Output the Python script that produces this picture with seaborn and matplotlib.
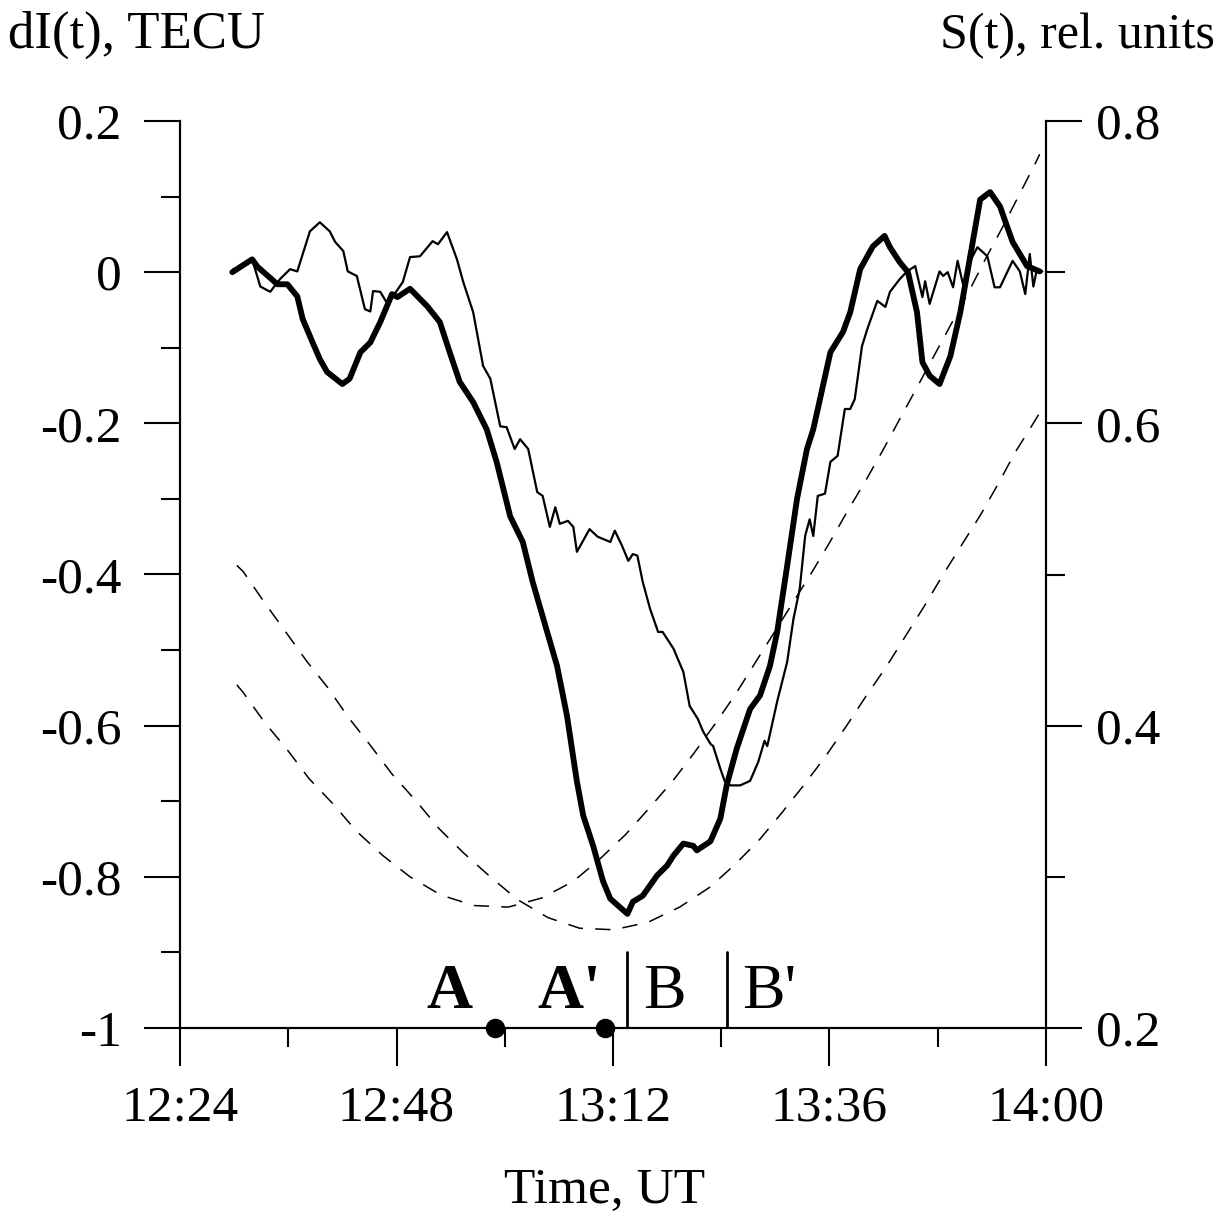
import numpy as np
import pandas as pd
import matplotlib
matplotlib.use("Agg")
import matplotlib.pyplot as plt
from matplotlib.ticker import FixedLocator
import seaborn as sns

# ---------------- data (time in minutes after 12:00 UT) ----------------
thick_t = [29.8, 32.0, 32.6, 34.8, 35.9, 37.0, 37.6, 38.7, 39.5, 40.3, 42.0, 42.8, 44.0, 45.1,
           46.2, 47.5, 48.1, 49.5, 51.4, 52.8, 53.9, 55.0, 56.5, 58.0, 59.1, 60.6, 62.0, 63.1,
           64.7, 65.8, 66.9, 68.0, 68.7, 69.8, 70.9, 71.7, 73.6, 74.2, 75.3, 76.9, 78.0, 78.7,
           79.8, 80.9, 81.3, 82.8, 83.9, 84.6, 85.7, 87.2, 88.3, 89.4, 90.2, 91.3, 92.4, 93.5,
           94.2, 96.1, 97.5, 98.3, 99.4, 100.8, 102.1, 102.7, 103.8, 104.7, 105.7, 106.3, 107.1,
           108.2, 109.4, 110.5, 111.6, 112.7, 113.8, 114.9, 116.3, 117.9, 119.3]
thick_v = [0.000, 0.017, 0.007, -0.016, -0.016, -0.032, -0.062, -0.093, -0.115, -0.132, -0.148,
           -0.141, -0.106, -0.093, -0.066, -0.029, -0.033, -0.022, -0.045, -0.066, -0.106, -0.145,
           -0.172, -0.208, -0.251, -0.323, -0.357, -0.410, -0.476, -0.521, -0.587, -0.674, -0.719,
           -0.759, -0.806, -0.829, -0.849, -0.833, -0.825, -0.798, -0.785, -0.772, -0.756, -0.759,
           -0.765, -0.753, -0.723, -0.679, -0.631, -0.578, -0.560, -0.521, -0.476, -0.389, -0.300,
           -0.234, -0.208, -0.106, -0.079, -0.053, 0.004, 0.034, 0.048, 0.033, 0.013, 0.000,
           -0.053, -0.119, -0.137, -0.148, -0.111, -0.053, 0.021, 0.096, 0.106, 0.087, 0.040,
           0.008, 0.001]

thin_t = [29.9, 30.7, 32.0, 32.9, 34.0, 35.1, 36.2, 37.0, 38.4, 39.5, 40.6, 41.2, 42.1, 42.6,
          43.6, 44.5, 45.1, 45.4, 46.2, 46.9, 47.6, 48.7, 49.5, 50.6, 52.0, 52.6, 53.6, 54.7,
          55.4, 56.5, 57.6, 58.4, 59.5, 60.2, 61.1, 61.7, 62.6, 63.6, 64.2, 65.0, 65.6, 66.1,
          67.0, 67.6, 68.0, 69.4, 70.3, 71.7, 72.2, 73.0, 73.7, 74.2, 74.7, 75.3, 76.1, 77.0,
          77.5, 78.7, 79.8, 80.5, 81.4, 82.0, 82.8, 83.1, 83.9, 84.4, 85.0, 86.1, 87.2, 88.1,
          88.8, 89.1, 90.2, 91.3, 92.0, 92.7, 93.3, 93.8, 94.2, 94.7, 95.5, 96.1, 96.9, 97.7,
          98.3, 98.8, 99.6, 100.2, 101.3, 102.2, 102.7, 103.8, 104.6, 105.5, 106.3, 106.6,
          107.1, 108.2, 108.6, 109.1, 109.7, 110.2, 110.8, 111.6, 112.4, 113.5, 114.3, 114.9,
          116.3, 117.1, 117.7, 118.2, 118.6, 119.0, 119.6]
thin_v = [0.004, 0.005, 0.017, -0.019, -0.026, -0.009, 0.004, 0.001, 0.054, 0.066, 0.054, 0.040,
          0.028, 0.001, -0.005, -0.049, -0.052, -0.025, -0.026, -0.040, -0.032, -0.013, 0.020,
          0.021, 0.041, 0.037, 0.053, 0.017, -0.013, -0.053, -0.124, -0.141, -0.204, -0.205,
          -0.234, -0.221, -0.234, -0.291, -0.296, -0.337, -0.311, -0.333, -0.329, -0.337, -0.370,
          -0.340, -0.350, -0.357, -0.342, -0.362, -0.382, -0.373, -0.375, -0.410, -0.445, -0.476,
          -0.476, -0.498, -0.529, -0.574, -0.591, -0.608, -0.624, -0.627, -0.657, -0.674, -0.679,
          -0.679, -0.673, -0.648, -0.620, -0.627, -0.568, -0.516, -0.459, -0.419, -0.349, -0.327,
          -0.349, -0.296, -0.293, -0.251, -0.243, -0.181, -0.181, -0.168, -0.098, -0.075, -0.038,
          -0.046, -0.026, -0.009, 0.001, 0.008, -0.033, -0.012, -0.042, 0.001, -0.005, 0.000,
          -0.020, 0.015, -0.016, 0.015, 0.033, 0.021, -0.020, -0.020, 0.015, 0.001, -0.029,
          0.024, -0.019, 0.004, 0.001]

s1_t = [30.3, 31.0, 33.4, 35.9, 38.3, 41.0, 43.6, 46.5, 49.5, 52.9, 56.6, 60.4, 64.1, 67.6,
        70.4, 73.4, 76.1, 78.7, 81.0, 83.3, 85.5, 87.7, 91.9, 94.0, 96.0, 98.0, 100.0, 101.9,
        103.8, 105.9, 107.8, 109.7, 111.6, 113.4, 115.3, 117.1, 118.9, 119.3]
s1_v = [0.427, 0.422, 0.402, 0.384, 0.365, 0.348, 0.330, 0.314, 0.300, 0.288, 0.281, 0.280,
        0.286, 0.297, 0.311, 0.328, 0.346, 0.364, 0.382, 0.401, 0.420, 0.441, 0.481, 0.501,
        0.521, 0.542, 0.562, 0.582, 0.603, 0.626, 0.647, 0.668, 0.689, 0.710, 0.731, 0.752,
        0.773, 0.778]

s2_t = [30.3, 31.0, 33.3, 35.6, 38.0, 40.4, 42.6, 45.1, 47.5, 50.2, 52.7, 55.4, 58.4, 61.4,
        64.8, 68.3, 72.1, 75.9, 79.4, 82.7, 85.5, 88.3, 90.8, 93.2, 95.6, 97.9, 100.1, 102.3,
        104.4, 106.5, 108.6, 110.7, 112.8, 114.7, 116.6, 118.7, 119.3]
s2_v = [0.506, 0.502, 0.482, 0.463, 0.443, 0.425, 0.406, 0.387, 0.368, 0.350, 0.332, 0.316,
        0.300, 0.285, 0.273, 0.266, 0.265, 0.270, 0.280, 0.293, 0.308, 0.325, 0.343, 0.361,
        0.380, 0.400, 0.420, 0.439, 0.459, 0.479, 0.500, 0.520, 0.540, 0.560, 0.581, 0.601,
        0.607]

x_ticks = [24, 48, 72, 96, 120]
x_tick_labels = ["12:24", "12:48", "13:12", "13:36", "14:00"]
x_minor = [36, 60, 84, 108]
y_ticks = [-1.0, -0.8, -0.6, -0.4, -0.2, 0.0, 0.2]
y_tick_labels = ["-1", "-0.8", "-0.6", "-0.4", "-0.2", "0", "0.2"]
y_minor = [-0.9, -0.7, -0.5, -0.3, -0.1, 0.1]
r_ticks = [0.2, 0.4, 0.6, 0.8]
r_tick_labels = ["0.2", "0.4", "0.6", "0.8"]
r_minor = [0.3, 0.5, 0.7]

dot_t = [58.9, 71.1]
dot_labels = ["A", "A'"]
dot_label_t = [53.9, 67.2]
bar_t = [73.6, 84.6]
bar_labels = ["B", "B'"]

# ---------------- style ----------------
sns.set_style("ticks")
plt.rcParams['font.family'] = ['Liberation Serif', 'DejaVu Serif']
plt.rcParams['axes.unicode_minus'] = False
for k in ('text.color', 'axes.labelcolor', 'xtick.color', 'ytick.color', 'axes.edgecolor'):
    plt.rcParams[k] = 'black'

fig = plt.figure(figsize=(12.25, 12.13), dpi=100)
ax = fig.add_axes([180/1225, 1 - 1028/1213, (1046-180)/1225, (1028-121)/1213])
ax2 = ax.twinx()

df_thick = pd.DataFrame({"t": thick_t, "v": thick_v})
df_thin = pd.DataFrame({"t": thin_t, "v": thin_v})
df_s1 = pd.DataFrame({"t": s1_t, "s": s1_v})
df_s2 = pd.DataFrame({"t": s2_t, "s": s2_v})

sns.lineplot(data=df_thin, x="t", y="v", ax=ax, color="black", linewidth=1.6,
             estimator=None, sort=False)
sns.lineplot(data=df_thick, x="t", y="v", ax=ax, color="black", linewidth=4.2,
             estimator=None, sort=False)
for d in (df_s1, df_s2):
    sns.lineplot(data=d, x="t", y="s", ax=ax2, color="black", linewidth=1.1,
                 linestyle=(0, (10, 8)), estimator=None, sort=False)

ax.set_xlim(24, 120)
ax.set_ylim(-1.0, 0.2)
ax2.set_ylim(0.2, 0.8)

for a in (ax, ax2):
    a.spines['top'].set_visible(False)
    for s in a.spines.values():
        s.set_linewidth(1.5)
        s.set_color("black")
    a.set_xlabel("")
    a.set_ylabel("")

ax.xaxis.set_major_locator(FixedLocator(x_ticks))
ax.xaxis.set_minor_locator(FixedLocator(x_minor))
ax.set_xticklabels(x_tick_labels)
ax.yaxis.set_major_locator(FixedLocator(y_ticks))
ax.yaxis.set_minor_locator(FixedLocator(y_minor))
ax.set_yticklabels(y_tick_labels)
ax2.yaxis.set_major_locator(FixedLocator(r_ticks))
ax2.yaxis.set_minor_locator(FixedLocator(r_minor))
ax2.set_yticklabels(r_tick_labels)

fs = 37
ax.tick_params(axis='x', which='major', length=27, width=1.5, direction='out',
               labelsize=fs, pad=14, colors='black')
ax.tick_params(axis='x', which='minor', length=14, width=1.5, direction='out', colors='black')
ax.tick_params(axis='y', which='major', length=26, width=1.5, direction='out',
               labelsize=fs, pad=16, left=True, right=False, colors='black')
ax.tick_params(axis='y', which='minor', length=14, width=1.5, direction='out',
               left=True, right=False, colors='black')
ax2.tick_params(axis='y', which='major', length=26, width=1.5, direction='out',
                labelsize=fs, pad=10, right=True, left=False, colors='black')
ax2.tick_params(axis='y', which='minor', length=14, width=1.5, direction='out',
                right=True, left=False, colors='black')

# markers and labels at the time axis
ax.plot(dot_t, [-1.0, -1.0], 'o', color='black', markersize=13, clip_on=False, zorder=5)
for lbl, tx in zip(dot_labels, dot_label_t):
    ax.text(tx, -0.974, lbl, fontsize=46, fontweight='bold', ha='center', va='baseline',
            color='black')
for lbl, tx in zip(bar_labels, bar_t):
    ax.plot([tx, tx], [-1.0, -0.9], color='black', linewidth=2.0)
    ax.text(tx + 1.7, -0.974, lbl, fontsize=46, ha='left', va='baseline', color='black')

fig.text(8/1225, 1 - 48/1213, "dI(t), TECU", fontsize=38, ha='left', va='baseline', color='black')
fig.text(1215/1225, 1 - 48/1213, "S(t), rel. units", fontsize=36, ha='right', va='baseline',
         color='black')
fig.text(605/1225, 1 - 1203/1213, "Time, UT", fontsize=37, ha='center', va='baseline',
         color='black')

fig.savefig("out.png", dpi=100, facecolor="white")
